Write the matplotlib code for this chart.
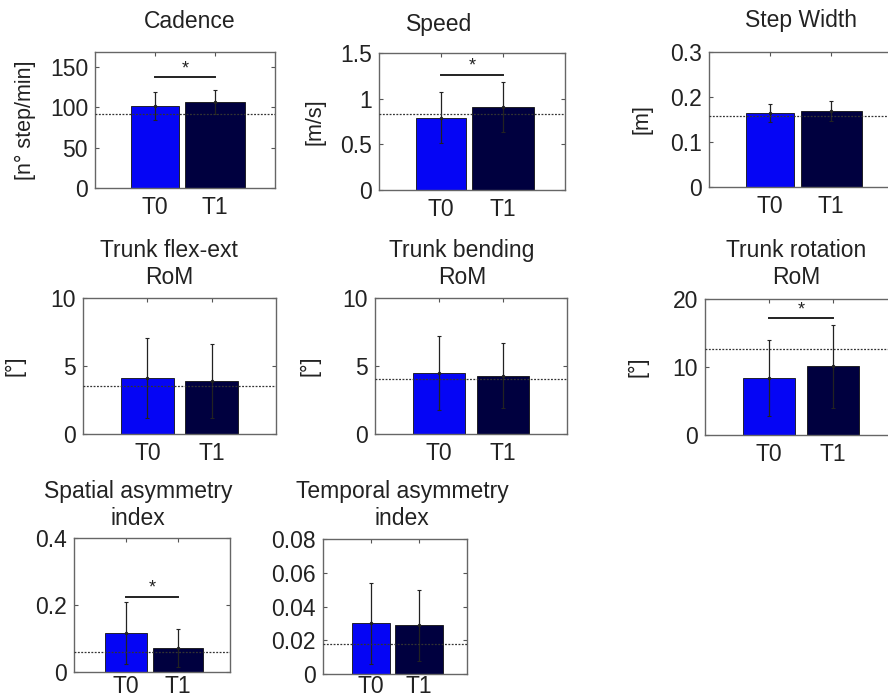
import matplotlib
matplotlib.use("Agg")
import matplotlib.pyplot as plt
import numpy as np

plt.rcParams['font.family'] = ['Liberation Sans', 'DejaVu Sans']

# ---------------- data ----------------
groups = ["T0", "T1"]
titles = ["Cadence", "Speed", "Step Width",
          "Trunk flex-ext\nRoM", "Trunk bending\nRoM", "Trunk rotation\nRoM",
          "Spatial asymmetry\nindex", "Temporal asymmetry\nindex"]
ylabels = ["[n° step/min]", "[m/s]", "[m]", "[°]", "[°]", "[°]", "", ""]

cadence_mean = [101, 106.5]
cadence_sd = [17.5, 14.5]
speed_mean = [0.79, 0.91]
speed_sd = [0.28, 0.27]
stepwidth_mean = [0.164, 0.169]
stepwidth_sd = [0.020, 0.022]
flexext_mean = [4.1, 3.9]
flexext_sd = [2.95, 2.7]
bending_mean = [4.5, 4.3]
bending_sd = [2.7, 2.4]
rotation_mean = [8.4, 10.1]
rotation_sd = [5.6, 6.1]
spatial_mean = [0.116, 0.072]
spatial_sd = [0.093, 0.056]
temporal_mean = [0.030, 0.029]
temporal_sd = [0.024, 0.021]

reference_values = [92, 0.83, 0.157, 3.5, 4.05, 12.6, 0.06, 0.0178]
significance_y = [137, 1.26, None, None, None, 17.2, 0.224, None]

ylims = [168, 1.5, 0.3, 10, 10, 20, 0.4, 0.08]
yticks = [[0, 50, 100, 150], [0, 0.5, 1, 1.5], [0, 0.1, 0.2, 0.3],
          [0, 5, 10], [0, 5, 10], [0, 10, 20], [0, 0.2, 0.4],
          [0, 0.02, 0.04, 0.06, 0.08]]
ytick_labels = [["0", "50", "100", "150"], ["0", "0.5", "1", "1.5"],
                ["0", "0.1", "0.2", "0.3"], ["0", "5", "10"], ["0", "5", "10"],
                ["0", "10", "20"], ["0", "0.2", "0.4"],
                ["0", "0.02", "0.04", "0.06", "0.08"]]

means = [cadence_mean, speed_mean, stepwidth_mean, flexext_mean,
         bending_mean, rotation_mean, spatial_mean, temporal_mean]
sds = [cadence_sd, speed_sd, stepwidth_sd, flexext_sd,
       bending_sd, rotation_sd, spatial_sd, temporal_sd]

# ---------------- layout (pixels) ----------------
W, H = 888, 700
# axes boxes: left, right, top, bottom
boxes = [(95, 275, 52, 188), (379, 565, 53, 190), (709, 892, 52, 187),
         (83, 276, 298, 434), (375, 567, 298, 434), (705, 897, 299, 435),
         (74, 230, 538, 672), (323, 467, 539, 674)]
title_pos = [(190, 21), (439, 25), (801, 21),
             (169, 264), (462, 264), (796, 264),
             (138, 505), (402, 505)]
ylabel_x = [25, 315, 642, 15, 310, 638, None, None]
xpad = [6, 6, 6, 6, 6, 6, 2, 1]
bar_widths = [(0.8, 1.0), (0.82, 1.0), (0.8, 1.0),
              (0.82, 0.82), (0.82, 0.82), (0.82, 0.82),
              (0.8, 0.98), (0.8, 0.98)]

colors = ["#0505f5", "#00003f"]
FS = 16.5

fig = plt.figure(figsize=(W / 100, H / 100), dpi=100)

for i in range(8):
    l, r, t, b = boxes[i]
    ax = fig.add_axes([l / W, 1 - b / H, (r - l) / W, (b - t) / H])
    x = np.arange(1, len(groups) + 1)
    ax.bar(x, means[i], width=list(bar_widths[i]), color=colors,
           edgecolor="#111111", linewidth=0.6, zorder=2)
    ax.errorbar(x, means[i], yerr=sds[i], fmt='.', color="#222222",
                markersize=3, ecolor="#222222", elinewidth=0.9,
                capsize=1.5, capthick=0.8, zorder=3)
    ax.axhline(reference_values[i], color="#333333", lw=0.9,
               ls=(0, (1.5, 1.2)), zorder=4)
    if significance_y[i] is not None:
        sy = significance_y[i]
        ax.plot([1, 2], [sy, sy], color="#222222", lw=1.4, zorder=3)
        ax.text(1.5, sy, "*", ha="center", va="bottom", fontsize=13,
                color="#222222")
    ax.set_xlim(0, 3)
    ax.set_ylim(0, ylims[i])
    ax.set_xticks(x)
    ax.set_xticklabels(groups, fontsize=FS)
    ax.set_yticks(yticks[i])
    ax.set_yticklabels(ytick_labels[i], fontsize=FS)
    ax.tick_params(direction="in", length=3, width=0.8, color="#555555",
                   top=True, right=True, labelcolor="#222222")
    ax.tick_params(axis="x", pad=xpad[i])
    ax.tick_params(axis="y", pad=5)
    for s in ax.spines.values():
        s.set_color("#666666")
        s.set_linewidth(1.0)
    if ylabels[i]:
        ax.set_ylabel(ylabels[i], fontsize=FS - 1, va="center",
                      color="#222222")
        ax.yaxis.set_label_coords((ylabel_x[i] - l) / (r - l), 0.5)
    tx, ty = title_pos[i]
    fig.text(tx / W, 1 - ty / H, titles[i], ha="center", va="center",
             fontsize=FS, color="#222222", linespacing=1.2)

fig.savefig("out.png", dpi=100)
